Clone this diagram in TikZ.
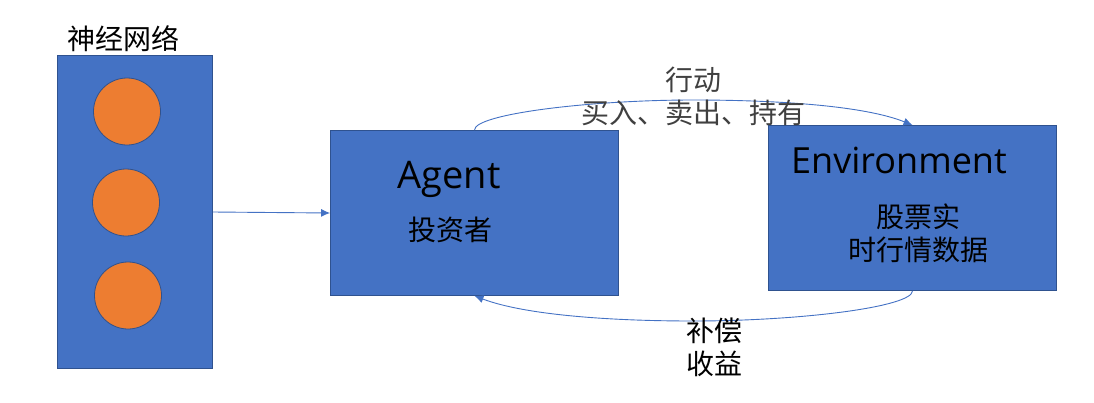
\documentclass[tikz,border=0pt]{standalone}
\usepackage{fontspec}
\setmainfont{Open Sans}
\newfontfamily\cjk{Noto Sans CJK SC}
\usetikzlibrary{arrows.meta}
\definecolor{boxfill}{HTML}{4472C4}
\definecolor{boxline}{HTML}{2F528F}
\definecolor{dotfill}{HTML}{ED7D31}
\definecolor{greytext}{HTML}{404040}
\tikzset{
  x=1pt,y=-1pt,
  panel/.style={rectangle,draw=boxline,fill=boxfill,line width=0.8pt,inner sep=0pt},
  unit/.style={circle,draw=boxline,fill=dotfill,line width=0.8pt,inner sep=0pt,minimum size=67pt},
  link/.style={draw=boxfill,line width=0.9pt,-{Latex[length=9pt,width=8pt]}},
  cn/.style={inner sep=0pt,align=center,font=\fontsize{28}{33}\cjk\selectfont},
  en/.style={inner sep=0pt,font=\fontsize{38}{40}\selectfont},
  enb/.style={inner sep=0pt,font=\fontsize{36}{40}\selectfont}
}
\begin{document}
\begin{tikzpicture}
\useasboundingbox (0,0) rectangle (1094,402);
\node[panel,minimum width=155pt,minimum height=313pt] (net) at (135,212) {};
\node[panel,minimum width=288pt,minimum height=165pt] (agent) at (474.5,213) {};
\node[panel,minimum width=288pt,minimum height=165pt] (env) at (912.5,208) {};
\node[unit] (u1) at (127,111.5) {};
\node[unit] (u2) at (126,202.5) {};
\node[unit] (u3) at (128,295.5) {};
\node[cn] (tnet) at (123,39) {神经网络};
\node[en] (tagent) at (449,179) {Agent};
\node[cn] (tinv) at (450,230) {投资者};
\node[enb] (tenv) at (899,160) {Environment};
\node[cn] (tdata) at (918,233.5) {股票实\\时行情数据};
\coordinate (mtop) at (693,100);
\coordinate (mbot) at (693,321);
\draw[link] (net.east) -- (agent.west);
\draw[link] (agent.north) .. controls (474,114) and (590,100) .. (mtop) .. controls (780,100) and (865,106) .. (env.north);
\draw[link] (env.south) .. controls (912,307) and (800,321) .. (mbot) .. controls (610,321) and (525,315) .. (agent.south);
\node[cn,text=greytext] (tact) at (693.5,96) {行动\\买入、卖出、持有};
\node[cn,text=black] (tpay) at (714,347) {补偿\\收益};
\end{tikzpicture}
\end{document}
